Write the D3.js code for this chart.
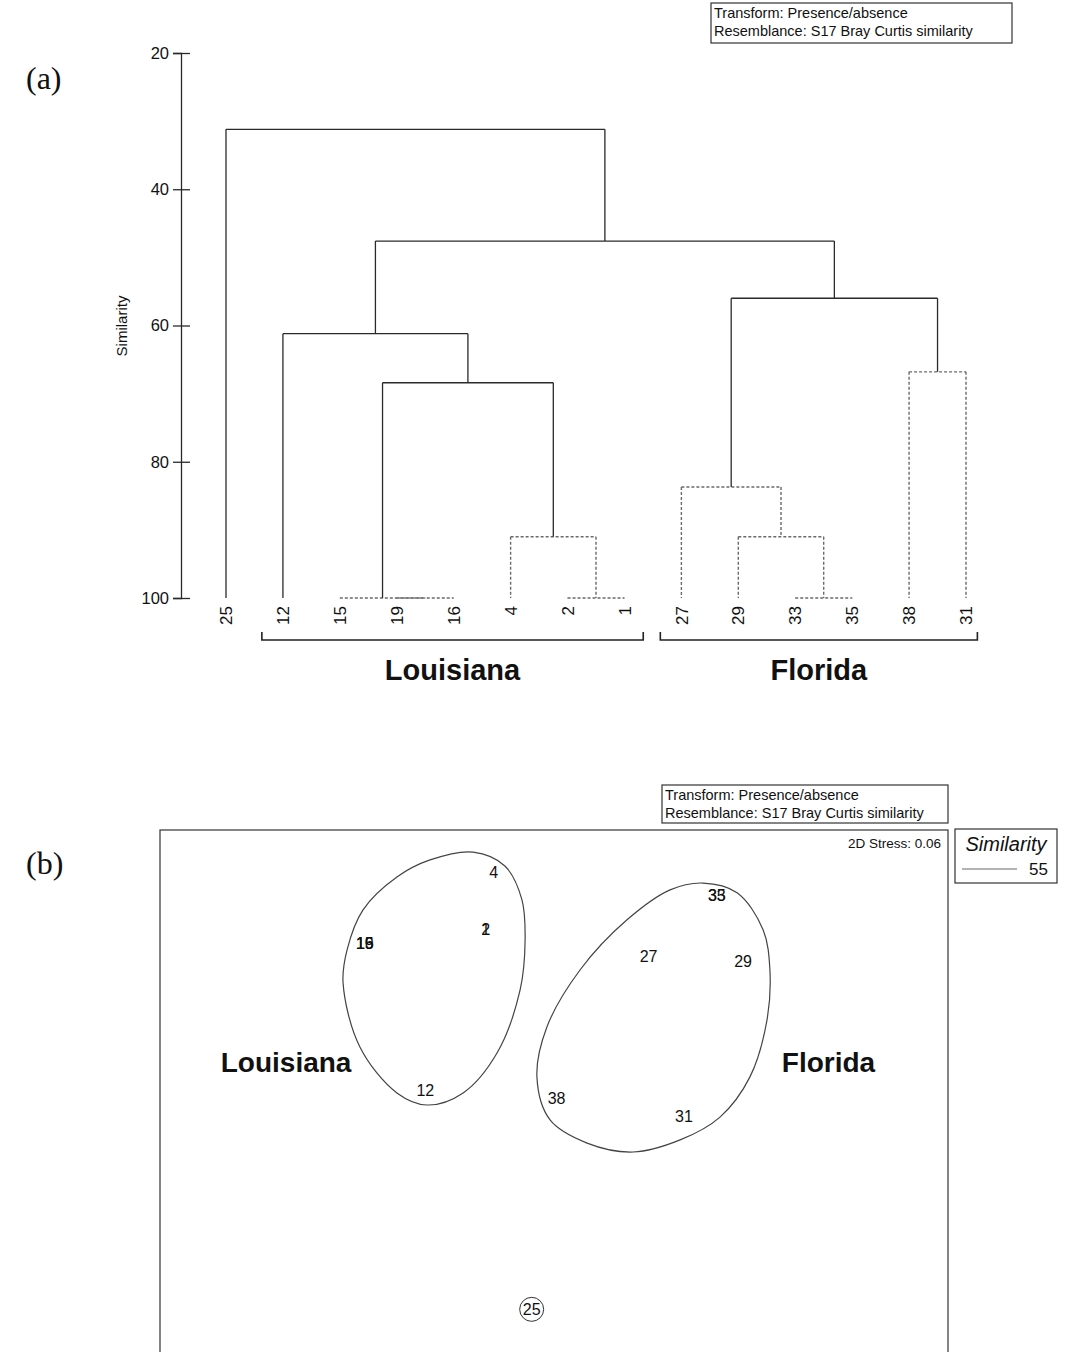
<!DOCTYPE html>
<html>
<head>
<meta charset="utf-8">
<script src="https://cdn.jsdelivr.net/npm/d3@7"></script>
<style>
  body { margin: 0; background: #fff; }
  text { font-family: "Liberation Sans", Arial, sans-serif; fill: #111; }
</style>
</head>
<body>
<script>
const w = 1068;
const h = 1352;
const solidColor = "#2a2a2a";
const dashColor = "#6a6a6a";

// (a) dendrogram data
const leaves = ["25", "12", "15", "19", "16", "4", "2", "1", "27", "29", "33", "35", "38", "31"];
// [id, left, right, similarity, not significant (dashed)]
const merges = [
  ["a", "2", "1", 100, true],
  ["b", "4", "a", 91, true],
  ["c", "19", "16", 100, true],
  ["d", "15", "c", 100, true],
  ["e", "d", "b", 68.4, false],
  ["f", "12", "e", 61.2, false],
  ["g", "33", "35", 100, true],
  ["h", "29", "g", 91, true],
  ["i", "27", "h", 83.7, true],
  ["j", "38", "31", 66.8, true],
  ["k", "i", "j", 56, false],
  ["l", "f", "k", 47.6, false],
  ["m", "25", "l", 31.2, false]
];
const simTicks = [20, 40, 60, 80, 100];
const groups = ["Louisiana", "Florida"];
const groupFrom = ["12", "27"];
const groupTo = ["1", "31"];

// (b) nMDS data
const mdsLabels = ["4", "1", "2", "15", "19", "16", "12", "33", "35", "27", "29", "38", "31", "25"];
const mdsX = [-0.23, -0.26, -0.26, -0.72, -0.72, -0.72, -0.49, 0.62, 0.62, 0.36, 0.72, 0.01, 0.495, -0.085];
const mdsY = [0.84, 0.62, 0.62, 0.57, 0.57, 0.57, 0.01, 0.75, 0.75, 0.52, 0.50, -0.02, -0.09, -0.825];
const outlier = "25";
const louisianaContour = [
  [-0.308, 0.916], [-0.187, 0.863], [-0.122, 0.734], [-0.110, 0.581], [-0.129, 0.391],
  [-0.217, 0.151], [-0.346, -0.001], [-0.483, -0.047], [-0.598, -0.001], [-0.739, 0.174],
  [-0.803, 0.417], [-0.788, 0.543], [-0.727, 0.696], [-0.598, 0.821], [-0.472, 0.886]
];
const floridaContour = [
  [0.567, 0.798], [0.697, 0.761], [0.796, 0.620], [0.822, 0.467], [0.811, 0.277],
  [0.746, 0.060], [0.632, -0.093], [0.480, -0.180], [0.301, -0.226], [0.126, -0.192],
  [-0.015, -0.104], [-0.065, 0.060], [-0.027, 0.250], [0.099, 0.467], [0.278, 0.658],
  [0.442, 0.772]
];
const regionNames = ["Louisiana", "Florida"];
const regionX = [-1.02, 1.045];
const regionY = [0.115, 0.115];
const contourLevel = 55;
const stress = 0.06;

const svg = d3.select("body")
  .append("svg")
  .attr("width", w)
  .attr("height", h);

// ---------- panel (a) ----------
const xLeaf = d3.scalePoint()
  .domain(leaves)
  .range([226, 966]);

const yScale = d3.scaleLinear()
  .domain([20, 100])
  .range([53, 598]);

svg.append("text")
  .attr("x", 26)
  .attr("y", 89)
  .style("font-family", "'Liberation Serif', 'Times New Roman', serif")
  .style("font-size", "32px")
  .text("(a)");

function infoBox(x, y, bw, bh) {
  const g = svg.append("g").attr("transform", `translate(${x},${y})`);
  g.append("rect")
    .attr("width", bw)
    .attr("height", bh)
    .attr("fill", "none")
    .attr("stroke", "#333")
    .attr("stroke-width", 1.2);
  g.append("text").attr("x", 3).attr("y", 15).style("font-size", "14.5px")
    .text("Transform: Presence/absence");
  g.append("text").attr("x", 3).attr("y", 33).style("font-size", "14.5px")
    .text("Resemblance: S17 Bray Curtis similarity");
}
infoBox(711, 3, 301, 40);

const yAxis = d3.axisLeft(yScale)
  .tickValues(simTicks)
  .tickSizeOuter(0)
  .tickSize(8)
  .tickPadding(4);

const yAxisGroup = svg.append("g")
  .attr("transform", "translate(181,0)")
  .call(yAxis);
yAxisGroup.select(".domain").attr("stroke", solidColor).attr("stroke-width", 1.3);
yAxisGroup.selectAll(".tick line")
  .attr("x1", 9)
  .attr("stroke", solidColor)
  .attr("stroke-width", 1.3);
yAxisGroup.selectAll(".tick text")
  .style("font-size", "16.5px")
  .style("font-family", "'Liberation Sans', Arial, sans-serif")
  .attr("fill", "#111");

svg.append("text")
  .attr("transform", "translate(127,326) rotate(-90)")
  .attr("text-anchor", "middle")
  .style("font-size", "15px")
  .text("Similarity");

// compute node positions
const nodes = {};
leaves.forEach(l => { nodes[l] = { x: xLeaf(l), sim: 100 }; });
merges.forEach(([id, left, right, sim, dashed]) => {
  nodes[id] = { x: (nodes[left].x + nodes[right].x) / 2, sim: sim };
});

const segs = [];
merges.forEach(([id, left, right, sim, dashed]) => {
  const L = nodes[left], R = nodes[right];
  segs.push({ x1: L.x, y1: sim, x2: R.x, y2: sim, dashed });
  segs.push({ x1: L.x, y1: sim, x2: L.x, y2: L.sim, dashed });
  segs.push({ x1: R.x, y1: sim, x2: R.x, y2: R.sim, dashed });
});

svg.append("g")
  .selectAll("line")
  .data(segs)
  .enter()
  .append("line")
  .attr("x1", d => d.x1)
  .attr("x2", d => d.x2)
  .attr("y1", d => yScale(d.y1))
  .attr("y2", d => yScale(d.y2))
  .attr("stroke", d => d.dashed ? dashColor : solidColor)
  .attr("stroke-width", d => d.dashed ? 1.4 : 1.3)
  .attr("stroke-dasharray", d => d.dashed ? "3,2" : null);

svg.append("g")
  .selectAll("text")
  .data(leaves)
  .enter()
  .append("text")
  .attr("transform", d => `translate(${xLeaf(d)},${yScale(100) + 8}) rotate(-90)`)
  .attr("text-anchor", "end")
  .attr("dy", "0.36em")
  .style("font-size", "17px")
  .text(d => d);

// group brackets
const step = xLeaf.step();
const bracketY = 640;
const padRight = [0.33, 0.2];
groups.forEach((name, i) => {
  const x1 = xLeaf(groupFrom[i]) - step * 0.37;
  const x2 = xLeaf(groupTo[i]) + step * padRight[i];
  svg.append("path")
    .attr("d", `M${x1},${bracketY - 8}L${x1},${bracketY}L${x2},${bracketY}L${x2},${bracketY - 8}`)
    .attr("fill", "none")
    .attr("stroke", "#222")
    .attr("stroke-width", 1.6);
  svg.append("text")
    .attr("x", (x1 + x2) / 2)
    .attr("y", 680)
    .attr("text-anchor", "middle")
    .style("font-size", "29px")
    .style("font-weight", "bold")
    .text(name);
});

// ---------- panel (b) ----------
const px = d3.scaleLinear().domain([-1.5, 1.5]).range([160, 948]);
const py = d3.scaleLinear().domain([1, -1]).range([830, 830 + 525.3]);

svg.append("text")
  .attr("x", 26)
  .attr("y", 874)
  .style("font-family", "'Liberation Serif', 'Times New Roman', serif")
  .style("font-size", "32px")
  .text("(b)");

infoBox(662, 785, 286, 38);

svg.append("rect")
  .attr("x", px(-1.5))
  .attr("y", py(1))
  .attr("width", px(1.5) - px(-1.5))
  .attr("height", 560)
  .attr("fill", "none")
  .attr("stroke", "#333")
  .attr("stroke-width", 1.2);

svg.append("text")
  .attr("x", 941)
  .attr("y", 848)
  .attr("text-anchor", "end")
  .style("font-size", "13.5px")
  .text("2D Stress: " + stress.toFixed(2));

// legend
const leg = svg.append("g").attr("transform", "translate(955,829)");
leg.append("rect")
  .attr("width", 102)
  .attr("height", 54)
  .attr("fill", "none")
  .attr("stroke", "#333")
  .attr("stroke-width", 1.2);
leg.append("text")
  .attr("x", 51)
  .attr("y", 22)
  .attr("text-anchor", "middle")
  .style("font-size", "20px")
  .style("font-style", "italic")
  .text("Similarity");
leg.append("line")
  .attr("x1", 7).attr("x2", 62)
  .attr("y1", 40).attr("y2", 40)
  .attr("stroke", "#666")
  .attr("stroke-width", 1.2);
leg.append("text")
  .attr("x", 93)
  .attr("y", 46)
  .attr("text-anchor", "end")
  .style("font-size", "17px")
  .text(contourLevel);

// contours
const contourLine = d3.line()
  .x(d => px(d[0]))
  .y(d => py(d[1]))
  .curve(d3.curveCatmullRomClosed.alpha(0.5));

svg.append("g")
  .selectAll("path")
  .data([louisianaContour, floridaContour])
  .enter()
  .append("path")
  .attr("d", contourLine)
  .attr("fill", "none")
  .attr("stroke", "#444")
  .attr("stroke-width", 1.2);

// points
const pts = mdsLabels.map((l, i) => ({ label: l, x: mdsX[i], y: mdsY[i] }));
svg.append("g")
  .selectAll("text")
  .data(pts)
  .enter()
  .append("text")
  .attr("x", d => px(d.x))
  .attr("y", d => py(d.y))
  .attr("dy", "0.35em")
  .attr("text-anchor", "middle")
  .style("font-size", "16px")
  .text(d => d.label);

svg.append("g")
  .selectAll("circle")
  .data(pts.filter(d => d.label === outlier))
  .enter()
  .append("circle")
  .attr("cx", d => px(d.x))
  .attr("cy", d => py(d.y))
  .attr("r", 12)
  .attr("fill", "none")
  .attr("stroke", "#333")
  .attr("stroke-width", 1);

svg.append("g")
  .selectAll("text")
  .data(regionNames)
  .enter()
  .append("text")
  .attr("x", (d, i) => px(regionX[i]))
  .attr("y", (d, i) => py(regionY[i]))
  .attr("dy", "0.35em")
  .attr("text-anchor", "middle")
  .style("font-size", "28px")
  .style("font-weight", "bold")
  .text(d => d);
</script>
</body>
</html>
